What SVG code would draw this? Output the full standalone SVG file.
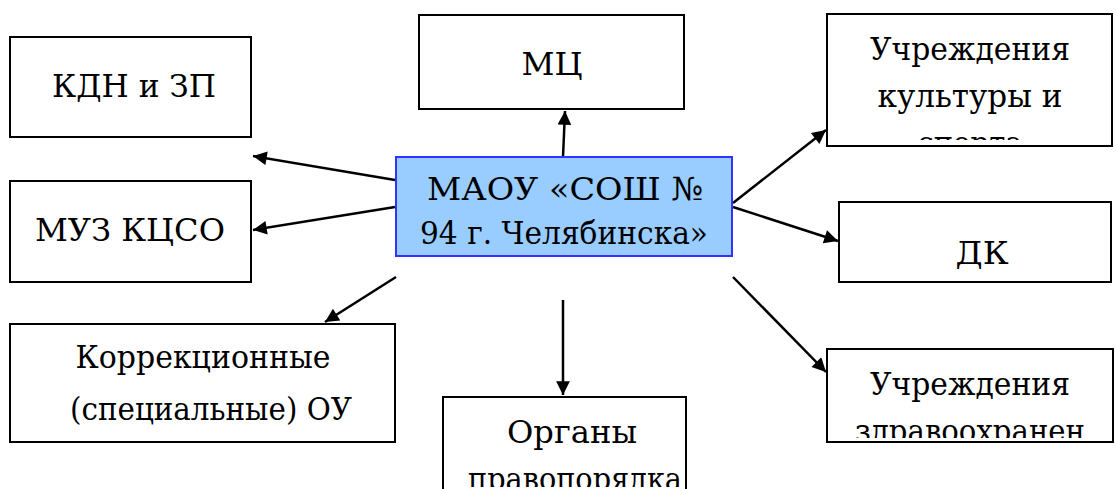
<svg xmlns="http://www.w3.org/2000/svg" width="1116" height="489" viewBox="0 0 1116 489">
<style>
.box{fill:#fff;stroke:#000;stroke-width:2}
.t{font-family:'DejaVu Serif',serif;font-size:32px;fill:#000;text-anchor:middle}
.c line{stroke:#000;stroke-width:2.5}
</style>
<defs>
<marker id="ah" viewBox="0 0 10 10" refX="10" refY="5" markerWidth="6.5" markerHeight="5.5" orient="auto" markerUnits="strokeWidth"><path d="M0,0L10,5L0,10z" fill="#000"/></marker>
<clipPath id="c1"><rect x="827" y="14" width="286" height="126"/></clipPath>
<clipPath id="c2"><rect x="827" y="348" width="286" height="90"/></clipPath>
<clipPath id="c3"><rect x="443" y="397" width="243" height="90"/></clipPath>
</defs>
<rect width="1116" height="489" fill="#fff"/>
<g class="c">
<line x1="395" y1="180" x2="253" y2="156" marker-end="url(#ah)"/>
<line x1="395" y1="207" x2="253" y2="230" marker-end="url(#ah)"/>
<line x1="396" y1="277" x2="325" y2="322" marker-end="url(#ah)"/>
<line x1="563" y1="157" x2="565" y2="111" marker-end="url(#ah)"/>
<line x1="563" y1="300" x2="563" y2="395" marker-end="url(#ah)"/>
<line x1="733" y1="203" x2="826" y2="130" marker-end="url(#ah)"/>
<line x1="733" y1="207" x2="838" y2="241" marker-end="url(#ah)"/>
<line x1="733" y1="277" x2="826" y2="372" marker-end="url(#ah)"/>
</g>
<g id="n-kdn"><rect class="box" x="10" y="37" width="241" height="100"/><text class="t" x="134" y="97" textLength="164" lengthAdjust="spacingAndGlyphs">КДН и ЗП</text></g>
<g id="n-muz"><rect class="box" x="10" y="181" width="241" height="101"/><text class="t" x="130" y="241" textLength="190" lengthAdjust="spacingAndGlyphs">МУЗ КЦСО</text></g>
<g id="n-korr"><rect class="box" x="10" y="324" width="385" height="118"/><text class="t" x="203" y="368" textLength="255" lengthAdjust="spacingAndGlyphs">Коррекционные</text><text class="t" x="211" y="420" textLength="282" lengthAdjust="spacingAndGlyphs">(специальные) ОУ</text></g>
<g id="n-mc"><rect class="box" x="419" y="15" width="265" height="94"/><text class="t" x="552" y="75" textLength="61" lengthAdjust="spacingAndGlyphs">МЦ</text></g>
<g id="n-center"><rect x="396" y="157" width="336" height="99" fill="#99CCFF" stroke="#3333FF" stroke-width="2"/><text class="t" x="565" y="200" textLength="276" lengthAdjust="spacingAndGlyphs">МАОУ «СОШ №</text><text class="t" x="564" y="244" textLength="288" lengthAdjust="spacingAndGlyphs">94 г. Челябинска»</text></g>
<g id="n-org"><rect class="box" x="443" y="397" width="243" height="100"/><g clip-path="url(#c3)"><text class="t" x="572" y="443" textLength="130" lengthAdjust="spacingAndGlyphs">Органы</text><text class="t" x="575" y="490" textLength="214" lengthAdjust="spacingAndGlyphs">правопорядка</text></g></g>
<g id="n-kult"><rect class="box" x="827" y="14" width="285" height="132"/><g clip-path="url(#c1)"><text class="t" x="970" y="60" textLength="200" lengthAdjust="spacingAndGlyphs">Учреждения</text><text class="t" x="970" y="107" textLength="185" lengthAdjust="spacingAndGlyphs">культуры и</text><text class="t" x="970" y="154" textLength="105" lengthAdjust="spacingAndGlyphs">спорта</text></g></g>
<g id="n-dk"><rect class="box" x="839" y="202" width="272" height="80"/><text class="t" x="982" y="264" textLength="53" lengthAdjust="spacingAndGlyphs">ДК</text></g>
<g id="n-zdrav"><rect class="box" x="827" y="349" width="286" height="93"/><g clip-path="url(#c2)"><text class="t" x="970" y="395" textLength="200" lengthAdjust="spacingAndGlyphs">Учреждения</text><text class="t" x="970" y="442" textLength="230" lengthAdjust="spacingAndGlyphs">здравоохранен</text></g></g>
</svg>
